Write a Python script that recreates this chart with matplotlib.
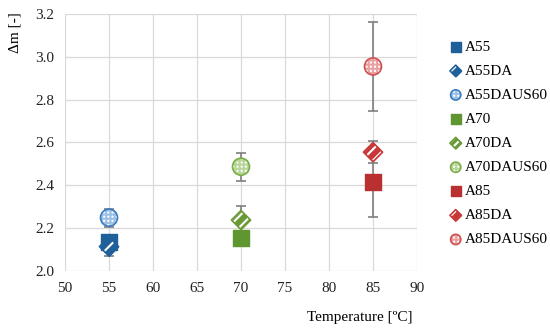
import matplotlib
matplotlib.use("Agg")
import matplotlib.pyplot as plt
from matplotlib.legend_handler import HandlerTuple

plt.rcParams['font.family'] = ['Liberation Serif', 'DejaVu Serif']
plt.rcParams['hatch.linewidth'] = 1.5

names = ["A55", "A55DA", "A55DAUS60", "A70", "A70DA", "A70DAUS60", "A85", "A85DA", "A85DAUS60"]
temps = [55, 55, 55, 70, 70, 70, 85, 85, 85]
dm = [2.137, 2.114, 2.249, 2.156, 2.238, 2.487, 2.414, 2.555, 2.955]
err = [0.02, 0.045, 0.042, 0.02, 0.066, 0.065, 0.16, 0.05, 0.207]
colors = ["#1f5f9a", "#1f5f9a", "#3a7cc0", "#5f9630", "#6a9a35", "#7aad45", "#b83030", "#c83838", "#d05050"]
light = ["#1f5f9a", "#1f5f9a", "#9dc0e6", "#5f9630", "#6a9a35", "#b8d59a", "#b83030", "#c83838", "#eaa0a0"]
kinds = ["s", "D", "o", "s", "D", "o", "s", "D", "o"]

fig = plt.figure(figsize=(5.5, 3.3), dpi=100)
ax = fig.add_axes([65/550, 1-271/330, (417-65)/550, (271-14)/330])

handles = []
for n, t, v, e, c, lc, k in zip(names, temps, dm, err, colors, light, kinds):
    ax.errorbar([t], [v], yerr=[e], fmt='none', ecolor='#7f7f7f', elinewidth=1.2,
                capsize=3.5, capthick=1.2, zorder=2)
    if k == "s":
        h1 = ax.scatter([t], [v], marker='s', s=120, facecolor=c, edgecolor=c, zorder=3)
        handles.append(h1)
    elif k == "D":
        h1 = ax.scatter([t], [v], marker='D', s=95, facecolor=c, edgecolor=c,
                        linewidth=0.0, zorder=4)
        h2 = ax.scatter([t], [v], marker='D', s=95, facecolor='none', edgecolor='white',
                        hatch='///', linewidth=0.0, zorder=5)
        h3 = ax.scatter([t], [v], marker='D', s=95, facecolor='none', edgecolor=c,
                        linewidth=1.2, zorder=6)
        handles.append((h1, h2, h3))
    else:
        h1 = ax.scatter([t], [v], marker='o', s=150, facecolor='white', edgecolor=lc,
                        hatch='++++', linewidth=0.0, zorder=4)
        h2 = ax.scatter([t], [v], marker='o', s=150, facecolor='none', edgecolor=c,
                        linewidth=1.2, zorder=5)
        handles.append((h1, h2))

ax.set_xlim(50, 90)
ax.set_ylim(2.0, 3.2)
ax.set_xticks(range(50, 91, 5))
ax.set_yticks([2.0, 2.2, 2.4, 2.6, 2.8, 3.0, 3.2])
ax.set_yticklabels(["2.0", "2.2", "2.4", "2.6", "2.8", "3.0", "3.2"])
ax.grid(True, color='#d9d9d9', linewidth=0.9, zorder=0)
ax.set_axisbelow(True)
for s in ax.spines.values():
    s.set_visible(False)
ax.tick_params(length=0, labelsize=11, colors='#222222', pad=8)

fig.text(15/550, 1-33/330, "Δm [-]", rotation=90, ha='center', va='center', fontsize=11)
fig.text(360/550, 1-318/330, "Temperature [ºC]", ha='center', va='center', fontsize=11)

fig.legend(handles, names, loc='upper left', bbox_to_anchor=(445/550, 1-34/330),
           frameon=False, fontsize=11, handlelength=0.6, handletextpad=0.3,
           labelspacing=0.68, borderaxespad=0, markerscale=0.6,
           handler_map={tuple: HandlerTuple(ndivide=1, pad=0)})

fig.savefig("out.png", dpi=100)
